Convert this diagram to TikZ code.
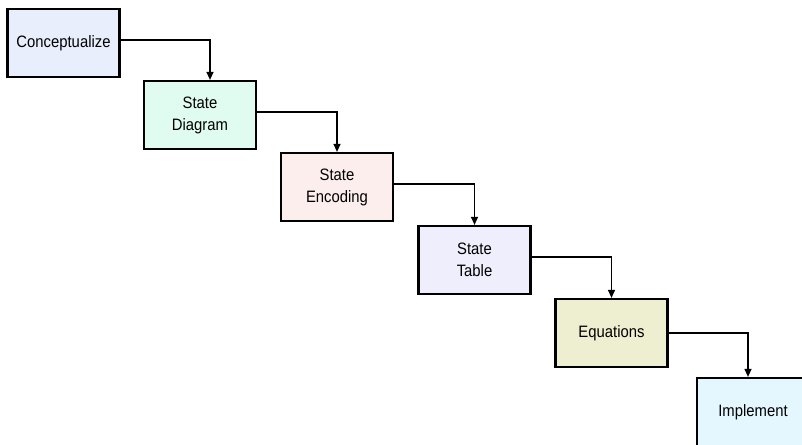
\documentclass[tikz,border=0pt]{standalone}
\usepackage{fontspec}
\setmainfont{Liberation Sans}[FakeStretch=0.9]
\usetikzlibrary{arrows.meta}

\definecolor{conceptfill}{HTML}{E8EEFC}
\definecolor{diagramfill}{HTML}{E0FCF0}
\definecolor{encodingfill}{HTML}{FCEEEC}
\definecolor{tablefill}{HTML}{EEEEFC}
\definecolor{equationfill}{HTML}{EEEED0}
\definecolor{implementfill}{HTML}{E4F6FE}

\begin{document}
\begin{tikzpicture}[x=1pt, y=-1pt,
    stage/.style={draw=black, line width=2.2pt, minimum width=112pt, minimum height=68pt,
        inner sep=0pt, align=center, font=\fontsize{16.5}{22}\selectfont},
    flow/.style={-{Triangle[length=8pt,width=7pt]}, line width=1.2pt}]
    \useasboundingbox (0,0) rectangle (802,444);
    \clip (0,0) rectangle (802,444);
    \fill[white] (0,0) rectangle (802,444);

    \node[stage, fill=conceptfill] (concept) at (63.5,43) {Conceptualize};
    \node[stage, fill=diagramfill] (diagram) at (200,115) {State\\Diagram};
    \node[stage, fill=encodingfill] (encoding) at (337,187) {State\\Encoding};
    \node[stage, fill=tablefill] (table) at (474.5,260) {State\\Table};
    \node[stage, fill=equationfill] (equations) at (611.5,333) {Equations};
    \node[stage, fill=implementfill] (implement) at (753,412) {Implement};

    \draw[flow] ([yshift=3pt]concept.east) -| ([xshift=10pt]diagram.north);
    \draw[flow] ([yshift=3pt]diagram.east) -| (encoding.north);
    \draw[flow] ([yshift=3pt]encoding.east) -| (table.north);
    \draw[flow] ([yshift=3pt]table.east) -| (equations.north);
    \draw[flow] (equations.east) -| ([xshift=-5pt]implement.north);
\end{tikzpicture}
\end{document}
